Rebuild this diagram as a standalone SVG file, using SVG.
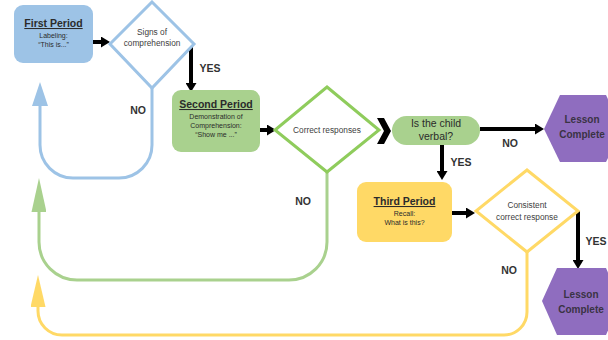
<svg xmlns="http://www.w3.org/2000/svg" width="608" height="340" viewBox="0 0 608 340">
<defs>
<style>
text{font-family:"Liberation Sans",Arial,sans-serif;text-anchor:middle;fill:#2b2b2b}
.title{font-size:10.5px;font-weight:bold;text-decoration:underline}
.small{font-size:7px}
.dtext{font-size:8.3px;fill:#404040}
.lbl{font-size:10.5px;font-weight:bold;fill:#333}
.hex{font-size:10px;font-weight:bold;fill:#3a3344}
.blk{stroke:#000;stroke-width:4;fill:none}
.loop{stroke-width:3;fill:none}
</style>
<marker id="ah" markerUnits="userSpaceOnUse" markerWidth="10" markerHeight="11" refX="0" refY="5.5" orient="auto" viewBox="0 0 10 11"><path d="M0,0 L9,5.5 L0,11 z" fill="#000"/></marker>
<marker id="ab" markerUnits="userSpaceOnUse" markerWidth="25" markerHeight="16" refX="0" refY="8" orient="auto" viewBox="0 0 25 16"><path d="M0,0 L24,8 L0,16 z" fill="#9dc3e6"/></marker>
<marker id="ag" markerUnits="userSpaceOnUse" markerWidth="35" markerHeight="15" refX="0" refY="7.5" orient="auto" viewBox="0 0 35 15"><path d="M0,0 L34,7.5 L0,15 z" fill="#a9d18e"/></marker>
<marker id="ay" markerUnits="userSpaceOnUse" markerWidth="33" markerHeight="15" refX="0" refY="7.5" orient="auto" viewBox="0 0 33 15"><path d="M0,0 L32,7.5 L0,15 z" fill="#ffd966"/></marker>
</defs>
<rect width="608" height="340" fill="#fff"/>
<g id="connectors">
<path class="blk" d="M93,42 H101" marker-end="url(#ah)"/>
<path class="blk" d="M191,42 V83" marker-end="url(#ah)"/>
<path class="blk" d="M259,130 H267" marker-end="url(#ah)"/>
<polygon points="377,118 384,118 391,131 384,144 377,144 384,131" fill="#000"/>
<path class="blk" d="M480,129 H535" marker-end="url(#ah)"/>
<path class="blk" d="M442,145 V171" marker-end="url(#ah)"/>
<path class="blk" d="M452,213 H466" marker-end="url(#ah)"/>
<path class="blk" d="M578,211 V260" marker-end="url(#ah)"/>
<path class="loop" stroke="#9dc3e6" d="M152,88 V145 A33,33 0 0 1 119,178 H73 A33,33 0 0 1 40,145 V106" marker-end="url(#ab)"/>
<path class="loop" stroke="#a9d18e" d="M327,172 V242 A38,38 0 0 1 289,280 H77 A38,38 0 0 1 39,242 V212" marker-end="url(#ag)"/>
<path class="loop" stroke="#ffd966" d="M527,252 V312 A23,23 0 0 1 504,335 H62 A24,24 0 0 1 38,311 V307" marker-end="url(#ay)"/>
<text class="lbl" x="210" y="72">YES</text>
<text class="lbl" x="138" y="114">NO</text>
<text class="lbl" x="303" y="205">NO</text>
<text class="lbl" x="510" y="147">NO</text>
<text class="lbl" x="461" y="166">YES</text>
<text class="lbl" x="596" y="245">YES</text>
<text class="lbl" x="509" y="274">NO</text>
</g>
<g id="first-period">
<rect x="14" y="5" width="79" height="58" rx="9" fill="#9dc3e6"/>
<text class="title" x="53.5" y="27">First Period</text>
<text class="small" x="53.5" y="38">Labeling:</text>
<text class="small" x="53.5" y="47">“This is...”</text>
</g>
<g id="signs-of-comprehension">
<polygon points="152,2 194,44 152,88 110,44" fill="#fff" stroke="#9dc3e6" stroke-width="3"/>
<text class="dtext" x="152" y="35">Signs of</text>
<text class="dtext" x="152" y="46">comprehension</text>
</g>
<g id="second-period">
<rect x="172" y="90" width="88" height="62" rx="9" fill="#a9d18e"/>
<text class="title" x="216" y="108">Second Period</text>
<text class="small" x="216" y="119">Demonstration of</text>
<text class="small" x="216" y="128">Comprehension:</text>
<text class="small" x="216" y="137">“Show me ...”</text>
</g>
<g id="correct-responses">
<polygon points="327,87 379,130 327,172 275,130" fill="#fff" stroke="#8fcc5c" stroke-width="3"/>
<text class="dtext" x="327" y="133">Correct responses</text>
</g>
<g id="is-child-verbal">
<rect x="392" y="116" width="88" height="29" rx="14.5" fill="#a9d18e"/>
<text x="436" y="127" font-size="10.5">Is the child</text>
<text x="436" y="140" font-size="10.5">verbal?</text>
</g>
<g id="lesson-complete-1">
<polygon points="544,129 560,95 606,95 622,129 606,162 560,162" fill="#8f6dbf"/>
<text class="hex" x="582" y="123">Lesson</text>
<text class="hex" x="582" y="138">Complete</text>
</g>
<g id="third-period">
<rect x="357" y="182" width="95" height="60" rx="9" fill="#ffd966"/>
<text class="title" x="404.5" y="205">Third Period</text>
<text class="small" x="404.5" y="216">Recall:</text>
<text class="small" x="404.5" y="225">What is this?</text>
</g>
<g id="consistent-correct-response">
<polygon points="527,170 578,211 527,252 476,211" fill="#fff" stroke="#ffd966" stroke-width="3"/>
<text class="dtext" x="527" y="208">Consistent</text>
<text class="dtext" x="527" y="220">correct response</text>
</g>
<g id="lesson-complete-2">
<polygon points="542,301 557,268 606,268 621,301 606,335 557,335" fill="#8f6dbf"/>
<text class="hex" x="581" y="298">Lesson</text>
<text class="hex" x="581" y="313">Complete</text>
</g>
</svg>
